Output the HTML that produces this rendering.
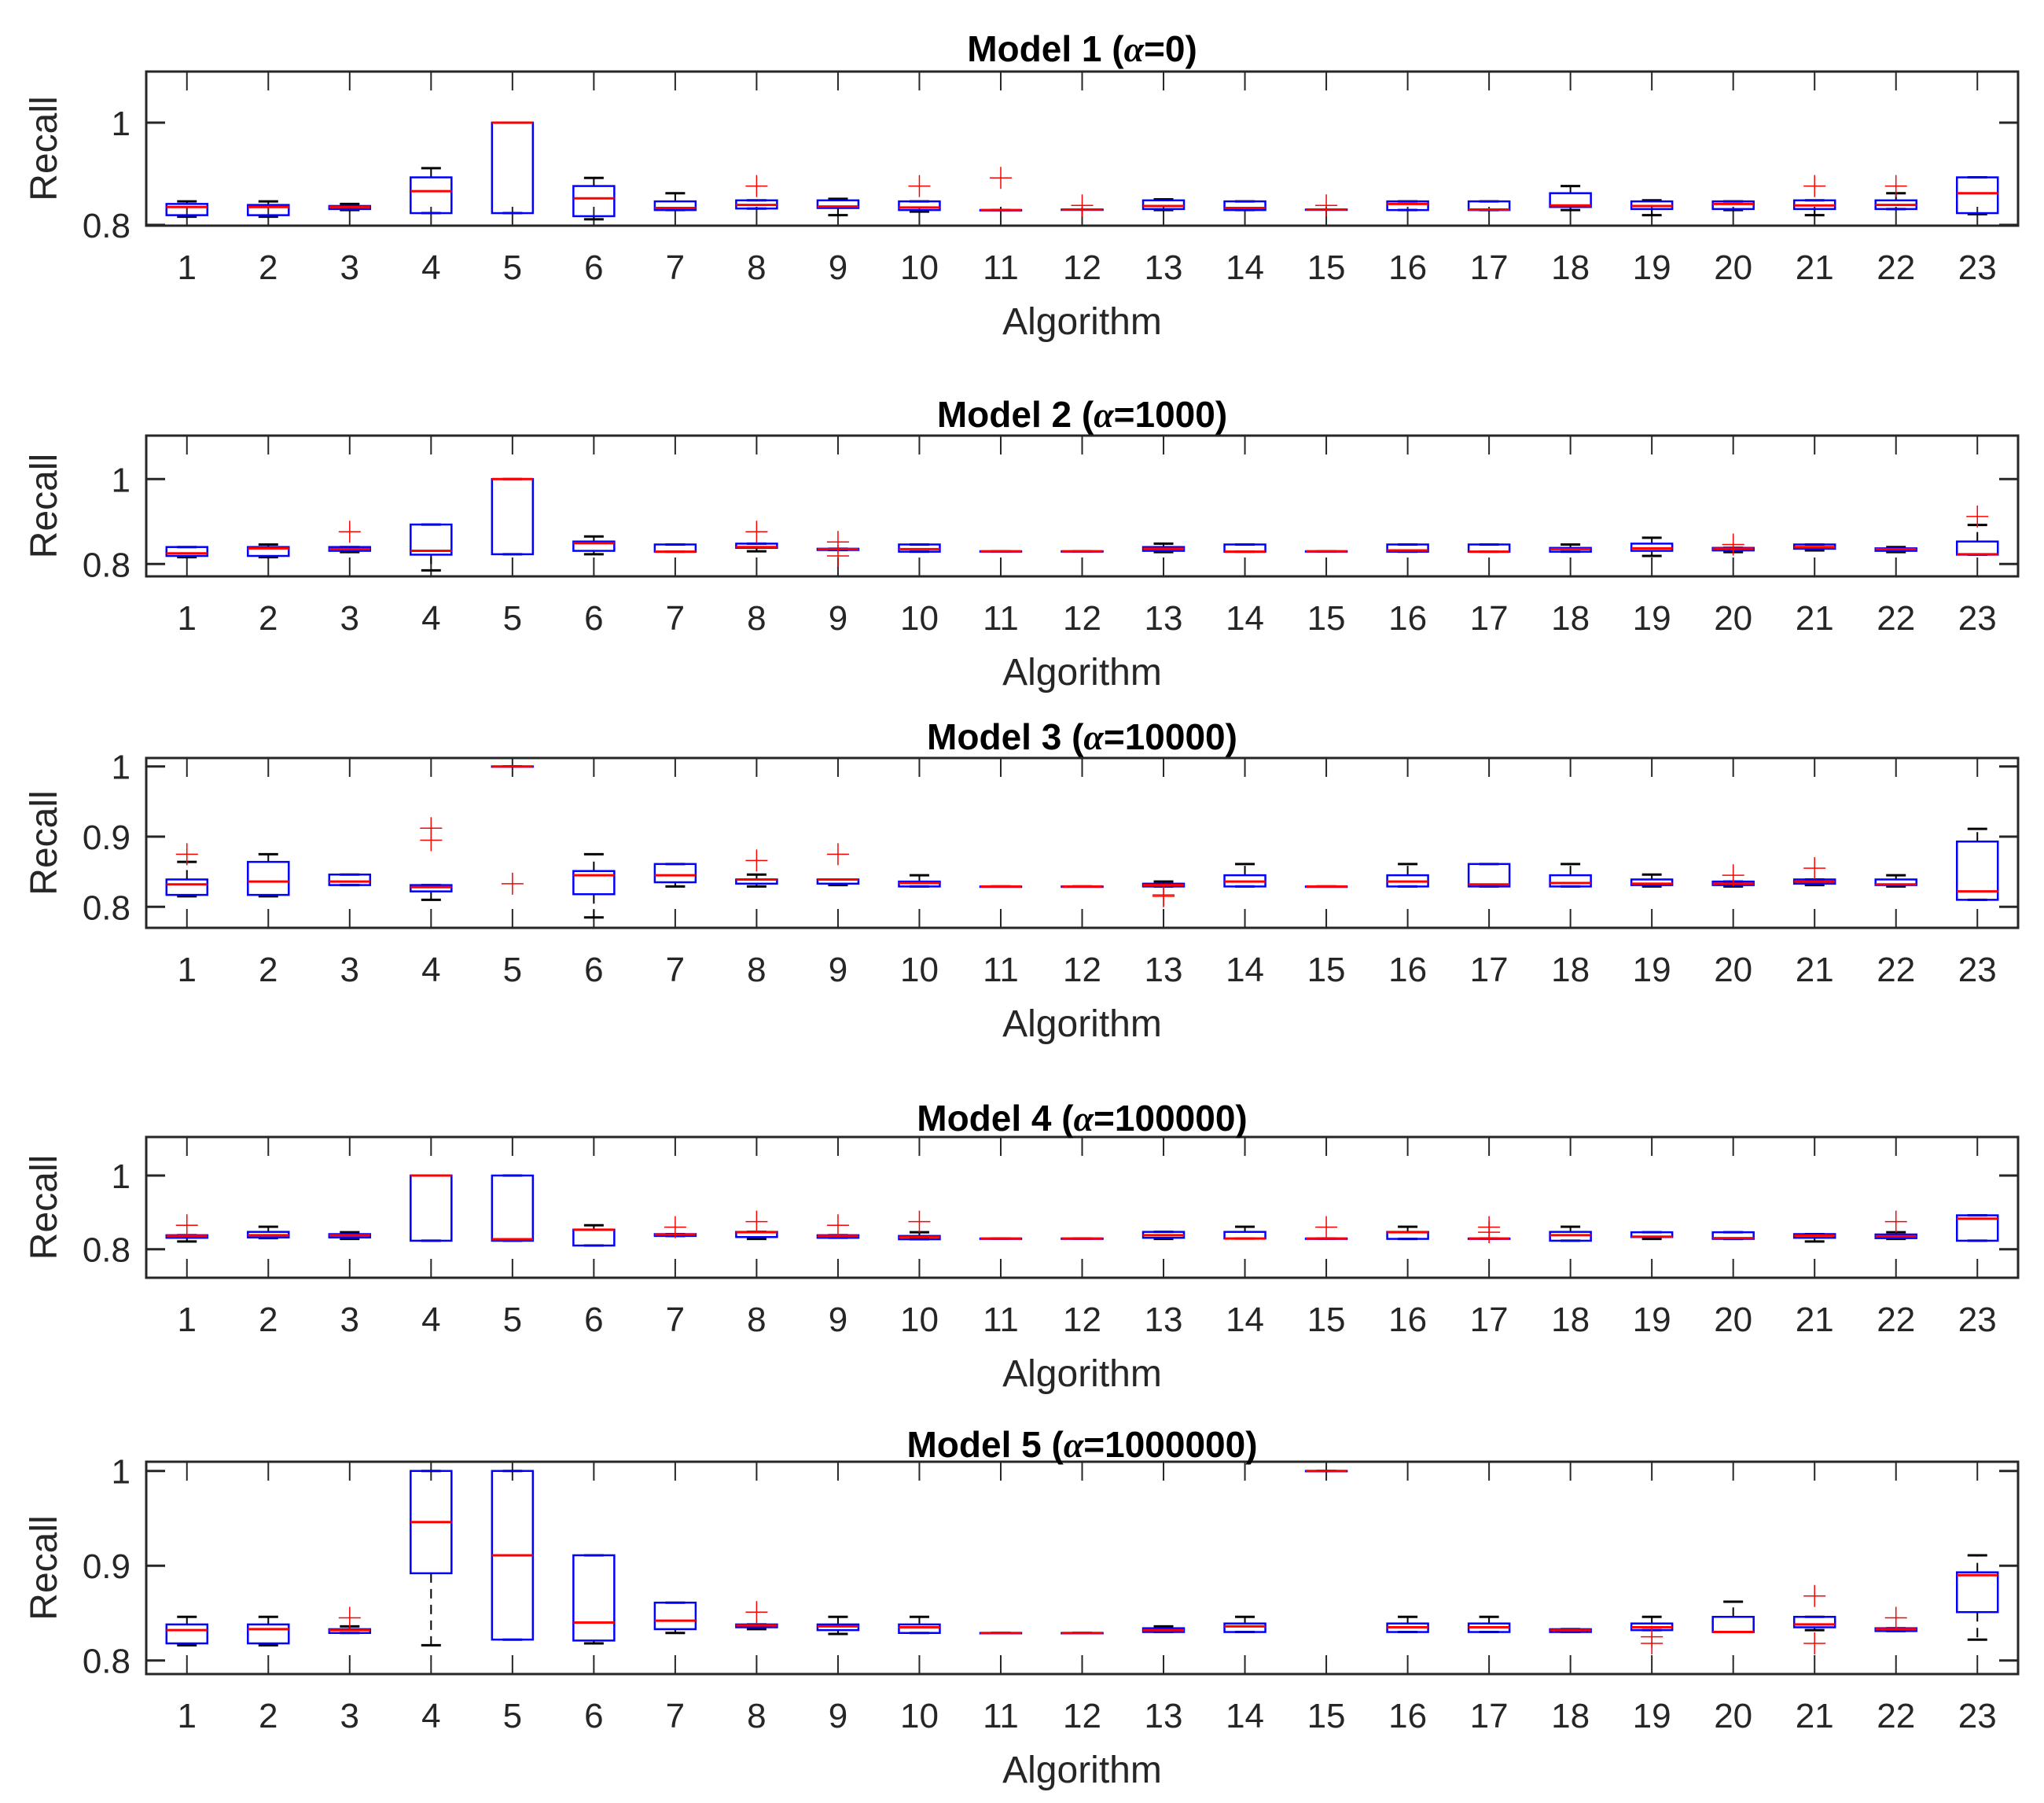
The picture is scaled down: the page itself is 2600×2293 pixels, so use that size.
<!DOCTYPE html>
<html><head><meta charset="utf-8">
<style>
html,body{margin:0;padding:0;background:#fff;}
svg{display:block;font-family:"Liberation Sans",Arial,sans-serif;}
</style></head>
<body>
<svg id="chart" width="2600" height="2293" viewBox="0 0 2600 2293" xmlns="http://www.w3.org/2000/svg"></svg>
<script>
const categories=[1,2,3,4,5,6,7,8,9,10,11,12,13,14,15,16,17,18,19,20,21,22,23];
const titles=["Model 1 (","Model 2 (","Model 3 (","Model 4 (","Model 5 ("];
const alphaVals=["0","1000","10000","100000","1000000"];
const yTickVals=[[0.8,1],[0.8,1],[0.8,0.9,1],[0.8,1],[0.8,0.9,1]];
const yTickLabels=[["0.8","1"],["0.8","1"],["0.8","0.9","1"],["0.8","1"],["0.8","0.9","1"]];

// Model 1
const m1Lo=[.816,.816,.829,.823,.823,.811,.829,.832,.819,.826,.829,.830,.829,.829,.830,.829,.829,.829,.819,.829,.819,.831,.821];
const m1Q1=[.819,.819,.831,.823,.823,.817,.829,.832,.833,.829,.829,.830,.831,.829,.830,.829,.829,.835,.831,.831,.831,.831,.823];
const m1Med=[.835,.835,.835,.866,1.0,.852,.833,.839,.836,.834,.829,.830,.837,.833,.830,.841,.830,.838,.837,.841,.838,.839,.862];
const m1Q3=[.841,.839,.837,.893,1.0,.876,.846,.848,.848,.846,.829,.830,.848,.846,.830,.846,.846,.862,.846,.846,.848,.848,.893];
const m1Hi=[.846,.846,.841,.911,1.0,.892,.862,.848,.851,.846,.829,.830,.850,.846,.830,.846,.846,.876,.848,.846,.848,.862,.893];
const m1Out=[[],[],[],[],[],[],[],[.876],[],[.876],[.892],[.838],[],[],[.838],[],[],[],[],[],[.876],[.876],[]];
// Model 2
const m2Lo=[.816,.816,.828,.785,.823,.823,.829,.830,.833,.829,.830,.830,.828,.829,.830,.829,.829,.829,.819,.828,.832,.828,.822];
const m2Q1=[.819,.819,.831,.822,.823,.831,.829,.838,.833,.829,.830,.830,.831,.829,.830,.829,.829,.829,.831,.832,.836,.831,.822];
const m2Med=[.825,.837,.835,.831,1.0,.849,.829,.840,.835,.835,.830,.830,.836,.829,.830,.832,.829,.835,.837,.836,.840,.835,.823];
const m2Q3=[.840,.840,.840,.893,1.0,.853,.846,.848,.836,.846,.830,.830,.840,.846,.830,.846,.846,.838,.848,.838,.846,.837,.853];
const m2Hi=[.840,.846,.840,.893,1.0,.865,.846,.848,.836,.846,.830,.830,.848,.846,.830,.846,.846,.846,.862,.838,.846,.840,.892];
const m2Out=[[],[],[.876],[],[],[],[],[.876],[.852,.819],[],[],[],[],[],[],[],[],[],[],[.846],[],[],[.912]];
// Model 3
const m3Lo=[.815,.815,.831,.810,1.0,.785,.829,.829,.831,.829,.829,.829,.829,.829,.829,.829,.829,.829,.829,.829,.831,.829,.810];
const m3Q1=[.817,.817,.831,.822,1.0,.818,.835,.833,.833,.829,.829,.829,.829,.829,.829,.829,.829,.829,.831,.831,.833,.831,.810];
const m3Med=[.832,.836,.836,.828,1.0,.845,.845,.839,.839,.834,.829,.829,.831,.836,.829,.836,.832,.834,.833,.833,.836,.832,.822];
const m3Q3=[.839,.864,.846,.831,1.0,.851,.861,.839,.839,.836,.829,.829,.833,.845,.829,.845,.861,.845,.839,.836,.839,.839,.893];
const m3Hi=[.864,.875,.846,.831,1.0,.875,.861,.846,.839,.845,.829,.829,.836,.861,.829,.861,.861,.861,.846,.836,.839,.845,.911];
const m3Out=[[.875],[],[],[.912,.895],[.833],[],[],[.866],[.875],[],[],[],[.817,.815],[],[],[],[],[],[],[.845],[.855],[],[]];
// Model 4
const m4Lo=[.821,.830,.828,.823,.823,.810,.836,.828,.831,.827,.829,.829,.828,.829,.829,.828,.829,.823,.828,.828,.821,.828,.823];
const m4Q1=[.831,.832,.832,.823,.823,.810,.836,.833,.831,.827,.829,.829,.831,.829,.829,.828,.829,.823,.833,.828,.831,.830,.823];
const m4Med=[.836,.838,.838,1.0,.827,.853,.840,.846,.836,.833,.829,.829,.838,.829,.829,.846,.829,.838,.834,.830,.837,.835,.883];
const m4Q3=[.838,.847,.841,1.0,1.0,.853,.841,.847,.838,.836,.829,.829,.847,.847,.829,.847,.829,.847,.846,.846,.841,.840,.892];
const m4Hi=[.838,.861,.846,1.0,1.0,.865,.841,.847,.838,.846,.829,.829,.847,.861,.829,.861,.829,.861,.846,.846,.841,.846,.892];
const m4Out=[[.865],[],[],[],[],[],[.860],[.875],[.865],[.875],[],[],[],[],[.860],[],[.860,.846],[],[],[],[],[.875],[]];
// Model 5
const m5Lo=[.816,.816,.829,.816,.822,.818,.829,.833,.828,.829,.829,.829,.830,.830,1.0,.830,.830,.830,.832,.830,.832,.831,.822];
const m5Q1=[.818,.818,.829,.892,.822,.821,.833,.835,.832,.829,.829,.829,.830,.830,1.0,.830,.830,.830,.832,.830,.835,.831,.851];
const m5Med=[.832,.833,.832,.946,.911,.840,.842,.837,.836,.835,.829,.829,.832,.836,1.0,.835,.835,.832,.835,.830,.838,.833,.890];
const m5Q3=[.838,.838,.833,1.0,1.0,.911,.861,.838,.838,.838,.829,.829,.834,.839,1.0,.839,.839,.833,.839,.846,.846,.834,.893];
const m5Hi=[.846,.846,.836,1.0,1.0,.911,.861,.838,.846,.846,.829,.829,.836,.846,1.0,.846,.846,.833,.846,.862,.846,.834,.911];
const m5Out=[[],[],[.845],[],[],[],[],[.851],[],[],[],[],[],[],[],[],[],[],[.825,.818],[],[.868,.818],[.845],[]];

const panels=[
 {lo:m1Lo,q1:m1Q1,med:m1Med,q3:m1Q3,hi:m1Hi,out:m1Out,y08:286,k:650,top:91,bottom:287,titleY:78},
 {lo:m2Lo,q1:m2Q1,med:m2Med,q3:m2Q3,hi:m2Hi,out:m2Out,y08:717.3,k:540,top:554,bottom:733,titleY:543},
 {lo:m3Lo,q1:m3Q1,med:m3Med,q3:m3Q3,hi:m3Hi,out:m3Out,y08:1153.3,k:893,top:964,bottom:1180,titleY:953},
 {lo:m4Lo,q1:m4Q1,med:m4Med,q3:m4Q3,hi:m4Hi,out:m4Out,y08:1588.7,k:468.5,top:1446,bottom:1625,titleY:1438},
 {lo:m5Lo,q1:m5Q1,med:m5Med,q3:m5Q3,hi:m5Hi,out:m5Out,y08:2111.7,k:1205,top:1859,bottom:2129,titleY:1853}
];
const NS="http://www.w3.org/2000/svg";
const svg=document.getElementById('chart');
const L=186,R=2567,step=(R-L)/categories.length;
function xs(c){return L+(c-0.5)*step;}
function mk(tag,attrs,parent){const e=document.createElementNS(NS,tag);for(const k in attrs)e.setAttribute(k,attrs[k]);(parent||svg).appendChild(e);return e;}
const ink="#262626";
panels.forEach((p,pi)=>{
  const ys=v=>p.y08-(v-0.8)*p.k;
  const g=mk('g',{});
  
  
  const frame=mk('rect',{x:L,y:p.top,width:R-L,height:p.bottom-p.top,fill:'none',stroke:ink,'stroke-width':3},g);
  
  
  // x ticks
  categories.forEach(c=>{
    const x=xs(c);
    mk('line',{x1:x,x2:x,y1:p.top,y2:p.top+24,stroke:ink,'stroke-width':2},g);
    mk('line',{x1:x,x2:x,y1:p.bottom,y2:p.bottom-24,stroke:ink,'stroke-width':2},g);
    const t=mk('text',{x:x,y:p.bottom+68,'text-anchor':'middle','font-size':44,fill:ink},g);
    t.textContent=String(c);
    
    
  });
  // y ticks
  yTickVals[pi].forEach((v,i)=>{
    const y=ys(v);
    mk('line',{x1:L,x2:L+24,y1:y,y2:y,stroke:ink,'stroke-width':3},g);
    mk('line',{x1:R,x2:R-24,y1:y,y2:y,stroke:ink,'stroke-width':3},g);
    const t=mk('text',{x:166,y:y+16,'text-anchor':'end','font-size':44,fill:ink},g);
    t.textContent=yTickLabels[pi][i];
    
    
  });
  const yl=mk('text',{x:0,y:0,'text-anchor':'middle','font-size':48,fill:ink,transform:'translate(72,'+((p.top+p.bottom)/2)+') rotate(-90)'},g);
  yl.textContent='Recall';
  
  
  const xl=mk('text',{x:(L+R)/2,y:p.bottom+138,'text-anchor':'middle','font-size':48,fill:ink},g);
  xl.textContent='Algorithm';
  
  
  const tt=mk('text',{x:(L+R)/2,y:p.titleY,'text-anchor':'middle','font-size':46,'font-weight':'bold',fill:'#000'},g);
  
  
  tt.appendChild(document.createTextNode(titles[pi]));
  const a=document.createElementNS(NS,'tspan');a.setAttribute('font-style','italic');a.setAttribute('font-family','"Liberation Serif",serif');a.textContent='α';tt.appendChild(a);
  tt.appendChild(document.createTextNode('='+alphaVals[pi]+')'));
  // boxes
  categories.forEach((c,i)=>{
    const x=xs(c);
    const bg=mk('g',{},g);
    
    
    const yq1=ys(p.q1[i]),yq3=ys(p.q3[i]),ylo=ys(p.lo[i]),yhi=ys(p.hi[i]),ym=ys(p.med[i]);
    if(yhi<yq3-1) mk('line',{x1:x,x2:x,y1:yq3,y2:yhi,stroke:'#000','stroke-width':2,'stroke-dasharray':'12,8'},bg);
    if(ylo>yq1+1) mk('line',{x1:x,x2:x,y1:yq1,y2:ylo,stroke:'#000','stroke-width':2,'stroke-dasharray':'12,8'},bg);
    mk('line',{x1:x-12.5,x2:x+12.5,y1:yhi,y2:yhi,stroke:'#000','stroke-width':3},bg);
    mk('line',{x1:x-12.5,x2:x+12.5,y1:ylo,y2:ylo,stroke:'#000','stroke-width':3},bg);
    mk('rect',{x:x-26,y:yq3,width:52,height:Math.max(0.5,yq1-yq3),fill:'none',stroke:'#0000ff','stroke-width':2.5},bg);
    mk('line',{x1:x-26,x2:x+26,y1:ym,y2:ym,stroke:'#ff0000','stroke-width':3},bg);
    p.out[i].forEach(v=>{
      const y=ys(v);
      const o=mk('path',{d:'M'+(x-14)+' '+y+'H'+(x+14)+'M'+x+' '+(y-14)+'V'+(y+14),stroke:'#ff0000','stroke-width':1.5,fill:'none'},bg);
      
      
    });
  });
});
</script>
</body></html>
